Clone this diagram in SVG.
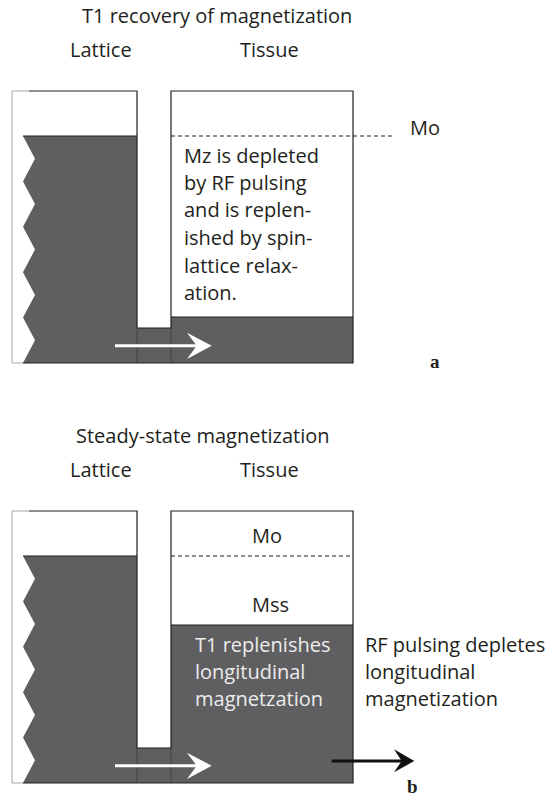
<svg xmlns="http://www.w3.org/2000/svg" width="555" height="796" viewBox="0 0 555 796">
<style>
.t{font-family:"Open Sans","Noto Sans",sans-serif;font-size:20px;fill:#231f20}
.tw{font-family:"Open Sans","Noto Sans",sans-serif;font-size:20px;fill:#ececec}
.lbl{font-family:"Liberation Serif",serif;font-size:19px;font-weight:bold;fill:#231f20}
.dark{fill:#5f5f61;stroke:none}
.edge{fill:none;stroke:#231f20;stroke-width:1.2}
.faint{fill:none;stroke:#a7a7a9;stroke-width:1}
.inner{fill:none;stroke:#3a3a3c;stroke-width:0.8}
.dash{fill:none;stroke:#231f20;stroke-width:1.2;stroke-dasharray:4 3}
.wline{stroke:#ffffff;stroke-width:3}
.bline{stroke:#111111;stroke-width:3}
</style>
<defs>
<path id="head" d="M0,0 L-24.7,-13 L-15,0 L-24.7,13.3 Z"/>
<path id="headb" d="M0,0 L-20.3,-11.7 L-12.6,0 L-20.3,11.3 Z"/>
</defs>

<!-- Panel a -->
<text class="t" x="82" y="23">T1 recovery of magnetization</text>
<g id="a-lattice">
<polygon class="dark" points="23,136 35,158.7 23,181.4 35,204.1 23,226.8 35,249.5 23,272.2 35,294.9 23,317.6 35,340.3 23,363 137,363 137,136"/>
<polyline class="faint" points="29,91 12,91 12,363 23,363"/>
<polyline class="edge" points="29,91 137,91 137,328"/>
<line class="edge" x1="23" y1="136" x2="137" y2="136"/>
<text class="t" x="70" y="57">Lattice</text>
</g>
<g id="a-tissue">
<polygon class="dark" points="137,328 171,328 171,317 353,317 353,363 137,363"/>
<polyline class="edge" points="137,328 171,328 171,91 353,91 353,363 23,363"/>
<line class="edge" x1="171" y1="317" x2="353" y2="317"/>
<line class="inner" x1="137" y1="328" x2="137" y2="363"/>
<line class="inner" x1="171" y1="328" x2="171" y2="363"/>
<line class="dash" x1="171" y1="136" x2="393" y2="136"/>
<text class="t" x="240" y="57">Tissue</text>
<text class="t" x="410" y="135">Mo</text>
<text class="t" x="184" y="163">Mz is depleted</text>
<text class="t" x="184" y="190">by RF pulsing</text>
<text class="t" x="184" y="217">and is replen-</text>
<text class="t" x="184" y="245">ished by spin-</text>
<text class="t" x="184" y="272.5">lattice relax-</text>
<text class="t" x="184" y="300">ation.</text>
</g>
<text class="lbl" x="430" y="368">a</text>

<!-- Panel b -->
<text class="t" x="76" y="443">Steady-state magnetization</text>
<g id="b-lattice">
<polygon class="dark" points="23,556 35,578.7 23,601.4 35,624.1 23,646.8 35,669.5 23,692.2 35,714.9 23,737.6 35,760.3 23,783 137,783 137,556"/>
<polyline class="faint" points="29,511 12,511 12,783 23,783"/>
<polyline class="edge" points="29,511 137,511 137,748"/>
<line class="edge" x1="23" y1="556" x2="137" y2="556"/>
<text class="t" x="70" y="477">Lattice</text>
</g>
<g id="b-tissue">
<polygon class="dark" points="137,748 171,748 171,625 353,625 353,783 137,783"/>
<polyline class="edge" points="137,748 171,748 171,511 353,511 353,783 23,783"/>
<line class="edge" x1="171" y1="625" x2="353" y2="625"/>
<line class="inner" x1="137" y1="748" x2="137" y2="783"/>
<line class="inner" x1="171" y1="748" x2="171" y2="783"/>
<line class="dash" x1="171" y1="556" x2="352" y2="556"/>
<text class="t" x="240" y="477">Tissue</text>
<text class="t" x="252" y="543">Mo</text>
<text class="t" x="252" y="612">Mss</text>
<text class="tw" x="195" y="652">T1 replenishes</text>
<text class="tw" x="195" y="679">longitudinal</text>
<text class="tw" x="195" y="706">magnetzation</text>
</g>
<g id="b-rf">
<text class="t" x="365" y="652">RF pulsing depletes</text>
<text class="t" x="365" y="679">longitudinal</text>
<text class="t" x="365" y="706">magnetization</text>
</g>
<text class="lbl" x="407" y="793">b</text>

<!-- Connectors -->
<g id="connectors">
<line class="wline" x1="115" y1="345.7" x2="200" y2="345.7"/>
<use href="#head" x="211.7" y="345.7" fill="#ffffff"/>
<line class="wline" x1="115" y1="765.7" x2="200" y2="765.7"/>
<use href="#head" x="211.7" y="765.7" fill="#ffffff"/>
<line class="bline" x1="331.7" y1="761" x2="404" y2="761"/>
<use href="#headb" x="414.3" y="761" fill="#111111"/>
</g>
</svg>
